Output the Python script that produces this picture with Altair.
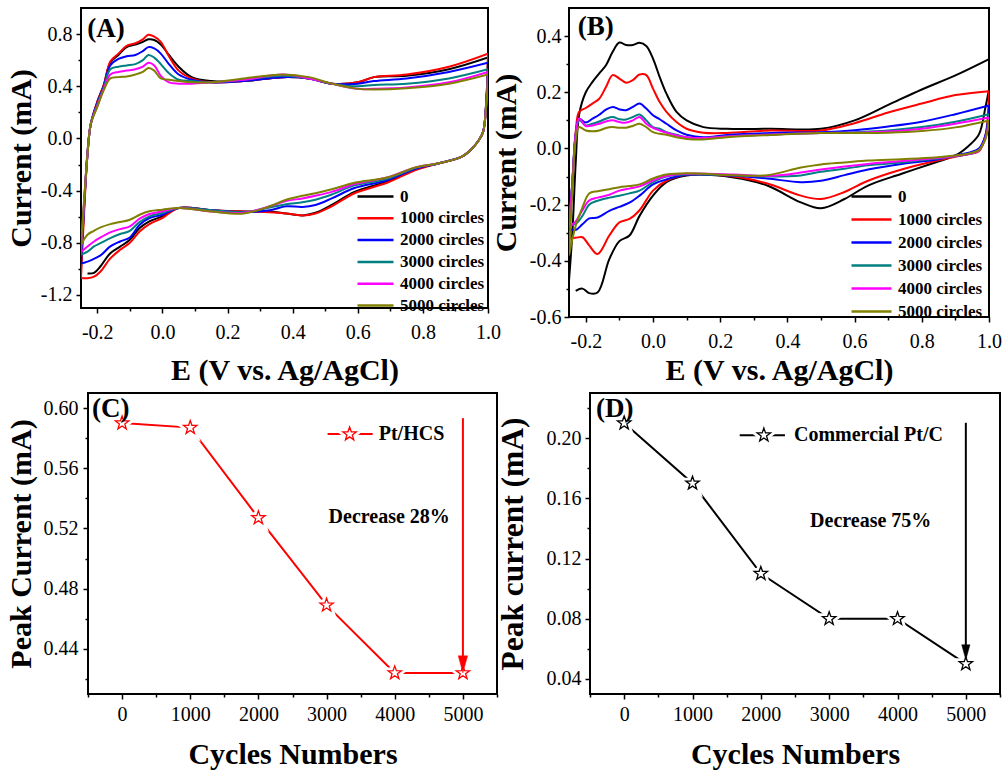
import altair as alt
import pandas as pd

FONT = "Liberation Serif"
SERIES = ["0", "1000 circles", "2000 circles", "3000 circles", "4000 circles", "5000 circles"]
COLORS = ["#000000", "#ff0000", "#0000ff", "#008080", "#ff00ff", "#808000"]

# ---------------- Panel A (Pt/HCS CV) ----------------
A_UP_E = [-0.25, -0.24, -0.23, -0.22, -0.20, -0.18, -0.16, -0.135, -0.11, -0.083, -0.06, -0.043, -0.025,
          -0.005, 0.02, 0.05, 0.09, 0.15, 0.25, 0.37, 0.45, 0.52, 0.60, 0.65, 0.75, 0.88, 1.0]
A_UP_0 = [-1.00, -0.50, -0.10, 0.11, 0.28, 0.41, 0.58, 0.64, 0.70, 0.72, 0.74, 0.76, 0.755, 0.72, 0.64, 0.55,
          0.47, 0.44, 0.44, 0.47, 0.46, 0.42, 0.43, 0.47, 0.48, 0.53, 0.62]
A_UP_1000 = [-1.07, -0.55, -0.12, 0.11, 0.28, 0.41, 0.59, 0.65, 0.71, 0.73, 0.76, 0.795, 0.78, 0.74, 0.63, 0.52,
             0.46, 0.43, 0.44, 0.47, 0.46, 0.42, 0.43, 0.47, 0.49, 0.55, 0.65]
A_UP_2000 = [-0.96, -0.50, -0.12, 0.11, 0.27, 0.40, 0.56, 0.61, 0.63, 0.64, 0.67, 0.70, 0.69, 0.65, 0.57, 0.49,
             0.45, 0.43, 0.44, 0.47, 0.46, 0.42, 0.42, 0.44, 0.46, 0.51, 0.58]
A_UP_3000 = [-0.89, -0.48, -0.12, 0.11, 0.26, 0.39, 0.53, 0.55, 0.56, 0.57, 0.60, 0.64, 0.62, 0.57, 0.50, 0.45,
             0.44, 0.43, 0.45, 0.48, 0.46, 0.42, 0.40, 0.41, 0.42, 0.46, 0.53]
A_UP_4000 = [-0.87, -0.47, -0.12, 0.11, 0.25, 0.38, 0.49, 0.51, 0.52, 0.53, 0.55, 0.58, 0.56, 0.48, 0.43, 0.42,
             0.42, 0.43, 0.45, 0.49, 0.46, 0.42, 0.38, 0.38, 0.39, 0.43, 0.51]
A_UP_5000 = [-0.815, -0.45, -0.12, 0.11, 0.24, 0.37, 0.46, 0.47, 0.475, 0.49, 0.51, 0.54, 0.52, 0.46, 0.45, 0.44,
             0.43, 0.43, 0.46, 0.49, 0.47, 0.42, 0.38, 0.375, 0.385, 0.42, 0.49]

A_LOW_E = [1.0, 0.995, 0.985, 0.97, 0.95, 0.92, 0.85, 0.78, 0.69, 0.59, 0.52, 0.47, 0.43, 0.38, 0.33, 0.25,
           0.15, 0.05, 0.0, -0.04, -0.07, -0.10, -0.13, -0.16, -0.19, -0.21, -0.23, -0.25]
A_LOW_0 = [0.62, 0.30, 0.05, -0.02, -0.08, -0.14, -0.19, -0.235, -0.33, -0.41, -0.51, -0.57, -0.59, -0.575,
           -0.56, -0.56, -0.55, -0.533, -0.597, -0.636, -0.687, -0.777, -0.83, -0.88, -0.98, -1.03, -1.035, None]
A_LOW_1000 = [0.65, 0.30, 0.05, -0.02, -0.08, -0.14, -0.19, -0.24, -0.34, -0.42, -0.52, -0.575, -0.59, -0.575,
              -0.565, -0.56, -0.55, -0.533, -0.61, -0.657, -0.713, -0.80, -0.854, -0.92, -1.02, -1.06, -1.072, -1.07]
A_LOW_2000 = [0.58, 0.29, 0.05, -0.02, -0.08, -0.14, -0.19, -0.23, -0.32, -0.38, -0.46, -0.51, -0.525, -0.52,
              -0.55, -0.565, -0.55, -0.533, -0.585, -0.61, -0.662, -0.759, -0.79, -0.828, -0.897, -0.923, -0.944, -0.96]
A_LOW_3000 = [0.53, 0.28, 0.05, -0.02, -0.08, -0.14, -0.19, -0.225, -0.31, -0.36, -0.43, -0.47, -0.49, -0.505,
              -0.53, -0.565, -0.55, -0.533, -0.572, -0.597, -0.641, -0.708, -0.733, -0.764, -0.803, -0.828, -0.867, -0.89]
A_LOW_4000 = [0.51, 0.27, 0.05, -0.02, -0.08, -0.14, -0.19, -0.22, -0.30, -0.35, -0.41, -0.44, -0.46, -0.48,
              -0.52, -0.57, -0.56, -0.533, -0.559, -0.579, -0.615, -0.674, -0.695, -0.72, -0.759, -0.79, -0.828, -0.87]
A_LOW_5000 = [0.49, 0.26, 0.05, -0.02, -0.08, -0.14, -0.19, -0.22, -0.30, -0.34, -0.39, -0.42, -0.44, -0.47,
              -0.52, -0.575, -0.56, -0.533, -0.546, -0.559, -0.585, -0.623, -0.641, -0.657, -0.682, -0.708, -0.738, -0.815]

# ---------------- Panel B (commercial Pt/C CV) ----------------
B_UP_E = [-0.25, -0.24, -0.23, -0.22, -0.20, -0.18, -0.16, -0.14, -0.12, -0.10, -0.08, -0.06, -0.04, -0.02,
          0.0, 0.02, 0.04, 0.07, 0.10, 0.15, 0.22, 0.35, 0.50, 0.60, 0.70, 0.80, 0.90, 1.0]
B_UP_0 = [-0.47, -0.30, -0.05, 0.12, 0.20, 0.237, 0.267, 0.296, 0.344, 0.377, 0.368, 0.368, 0.376, 0.365,
          0.32, 0.254, 0.195, 0.13, 0.10, 0.076, 0.07, 0.07, 0.07, 0.10, 0.155, 0.21, 0.26, 0.318]
B_UP_1000 = [-0.32, -0.12, 0.06, 0.13, 0.144, 0.16, 0.177, 0.219, 0.261, 0.249, 0.234, 0.243, 0.263, 0.261,
             0.213, 0.165, 0.13, 0.094, 0.07, 0.056, 0.055, 0.064, 0.064, 0.09, 0.128, 0.16, 0.19, 0.204]
B_UP_2000 = [-0.29, -0.12, 0.05, 0.106, 0.092, 0.106, 0.12, 0.138, 0.148, 0.139, 0.136, 0.148, 0.16, 0.142,
             0.118, 0.104, 0.088, 0.064, 0.049, 0.04, 0.048, 0.055, 0.058, 0.065, 0.078, 0.095, 0.122, 0.153]
B_UP_3000 = [-0.27, -0.12, 0.05, 0.10, 0.082, 0.088, 0.096, 0.106, 0.112, 0.104, 0.103, 0.112, 0.121, 0.10,
             0.076, 0.07, 0.058, 0.049, 0.04, 0.037, 0.043, 0.05, 0.055, 0.058, 0.064, 0.076, 0.095, 0.122]
B_UP_4000 = [-0.28, -0.12, 0.05, 0.107, 0.08, 0.082, 0.088, 0.096, 0.10, 0.094, 0.092, 0.10, 0.112, 0.088,
             0.073, 0.064, 0.056, 0.046, 0.04, 0.037, 0.043, 0.05, 0.055, 0.056, 0.06, 0.07, 0.088, 0.11]
B_UP_5000 = [-0.38, -0.15, 0.03, 0.076, 0.064, 0.061, 0.064, 0.073, 0.076, 0.074, 0.074, 0.08, 0.088, 0.076,
             0.058, 0.052, 0.049, 0.04, 0.034, 0.032, 0.04, 0.048, 0.055, 0.055, 0.056, 0.062, 0.075, 0.10]

B_LOW_E = [1.0, 0.99, 0.97, 0.94, 0.90, 0.84, 0.74, 0.64, 0.57, 0.50, 0.44, 0.34, 0.24, 0.10, 0.04, 0.0,
           -0.04, -0.07, -0.10, -0.13, -0.165, -0.19, -0.21, -0.23, -0.25]
B_LOW_0 = [0.21, 0.15, 0.05, 0.01, -0.025, -0.05, -0.09, -0.132, -0.18, -0.213, -0.192, -0.132, -0.103, -0.096,
           -0.12, -0.168, -0.24, -0.31, -0.33, -0.394, -0.513, -0.515, -0.499, -0.507, None]
B_LOW_1000 = [0.204, 0.05, -0.01, -0.02, -0.03, -0.045, -0.075, -0.115, -0.155, -0.18, -0.168, -0.125, -0.10,
              -0.094, -0.115, -0.15, -0.22, -0.251, -0.263, -0.31, -0.376, -0.345, -0.316, -0.318, -0.32]
B_LOW_2000 = [0.153, 0.05, 0.0, -0.015, -0.025, -0.04, -0.055, -0.075, -0.095, -0.115, -0.12, -0.107, -0.097,
              -0.094, -0.11, -0.128, -0.168, -0.193, -0.208, -0.222, -0.246, -0.249, -0.27, -0.29, -0.286]
B_LOW_3000 = [0.122, 0.04, -0.007, -0.02, -0.028, -0.037, -0.05, -0.06, -0.072, -0.083, -0.096, -0.10, -0.095,
              -0.092, -0.10, -0.12, -0.15, -0.16, -0.168, -0.175, -0.186, -0.20, -0.24, -0.268, -0.27]
B_LOW_4000 = [0.11, 0.04, -0.007, -0.02, -0.027, -0.035, -0.045, -0.055, -0.064, -0.075, -0.086, -0.098, -0.093,
              -0.09, -0.098, -0.114, -0.135, -0.143, -0.15, -0.165, -0.175, -0.185, -0.22, -0.26, -0.28]
B_LOW_5000 = [0.10, 0.035, -0.005, -0.018, -0.025, -0.032, -0.038, -0.043, -0.05, -0.057, -0.068, -0.095, -0.095,
              -0.088, -0.093, -0.107, -0.128, -0.134, -0.138, -0.145, -0.152, -0.16, -0.21, -0.275, -0.38]

# ---------------- Panels C and D (peak current vs cycles) ----------------
CYCLES = [0, 1000, 2000, 3000, 4000, 5000]
C_PEAK = [0.590, 0.587, 0.527, 0.469, 0.424, 0.424]
D_PEAK = [0.210, 0.170, 0.110, 0.080, 0.080, 0.050]

STAR = ("M0,-1L0.235,-0.324L0.951,-0.309L0.38,0.124L0.588,0.809L0,0.4L-0.588,0.809"
        "L-0.38,0.124L-0.951,-0.309L-0.235,-0.324Z")
HEAD = "M-0.55,-1L0.55,-1L0,1Z"
MINUS_FIX = "replace(datum.label, '\u2212', '-')"


def cv_frame(up_e, ups, low_e, lows):
    rows = []
    for name, up, low in zip(SERIES, ups, lows):
        for branch, es, vs in (("anodic", up_e, up), ("cathodic", low_e, low)):
            k = 0
            for e, v in zip(es, vs):
                if v is None:
                    continue
                rows.append({"series": name, "branch": branch, "k": k, "E": e, "I": v})
                k += 1
    return pd.DataFrame(rows)


def major_axis(title, values, fmt, lpad, tpad, **kw):
    return alt.Axis(title=title, values=values, format=fmt, labelPadding=lpad,
                    titlePadding=tpad, labelExpr=MINUS_FIX, **kw)


def minor_axis(orient, values):
    return alt.Axis(orient=orient, values=values, labels=False, title=None,
                    tickSize=3, domain=False, grid=False)


def cv_panel(df, xdom, ydom, xmaj, ymaj, xmin, ymin, w, h, leg, tag, tag_e, tag_i, pads):
    xs = alt.Scale(domain=xdom, nice=False, zero=False)
    ys = alt.Scale(domain=ydom, nice=False, zero=False)
    lines = alt.Chart(df).mark_line(strokeWidth=2, interpolate="catmull-rom", clip=True).encode(
        x=alt.X("E:Q", scale=xs,
                axis=major_axis("E (V vs. Ag/AgCl)", xmaj, ".1f", pads["xl"], pads["xt"])),
        y=alt.Y("I:Q", scale=ys,
                axis=major_axis("Current (mA)", ymaj, ".1f", pads["yl"], pads["yt"])),
        color=alt.Color("series:N", scale=alt.Scale(domain=SERIES, range=COLORS),
                        legend=alt.Legend(**leg)),
        detail="branch:N",
        order="k:Q",
    )
    tagdf = pd.DataFrame({"E": [tag_e], "I": [tag_i], "t": [tag]})
    label = alt.Chart(tagdf).mark_text(font=FONT, fontSize=27, fontWeight="bold", align="left",
                                       baseline="middle", color="black").encode(
        x=alt.X("E:Q", scale=xs, axis=minor_axis("bottom", xmin)),
        y=alt.Y("I:Q", scale=ys, axis=minor_axis("left", ymin)),
        text="t:N",
    )
    return alt.layer(lines, label).resolve_axis(x="independent", y="independent").properties(
        width=w, height=h)


def peak_panel(values, color, ydom, ymaj, ymin, ytitle, w, h, tag, tag_pos, leg_label,
               leg_line, leg_star, leg_text, leg_y, note, note_pos, arrow, head_y, head_size, pads,
               ytitle_size):
    xs = alt.Scale(domain=[-500, 5500], nice=False, zero=False)
    ys = alt.Scale(domain=ydom, nice=False, zero=False)

    def X(axis):
        return alt.X("c:Q", scale=xs, axis=axis)

    def Y(axis):
        return alt.Y("p:Q", scale=ys, axis=axis)

    df = pd.DataFrame({"c": CYCLES, "p": values})
    line = alt.Chart(df).mark_line(color=color, strokeWidth=2).encode(
        x=X(major_axis("Cycles Numbers", CYCLES, "d", pads["xl"], pads["xt"])),
        y=Y(major_axis(ytitle, ymaj, ".2f", pads["yl"], pads["yt"], titleFontSize=ytitle_size)),
    )
    stars_df = pd.concat([df, pd.DataFrame({"c": [leg_star], "p": [leg_y]})], ignore_index=True)
    halo = alt.Chart(stars_df).mark_point(shape=STAR, size=200, filled=True, fill="white",
                                          stroke="white", strokeWidth=7, opacity=1).encode(
        x=X(None), y=Y(None))
    stars = alt.Chart(stars_df).mark_point(shape=STAR, size=200, filled=True, fill="white",
                                           stroke=color, strokeWidth=1.3, opacity=1).encode(
        x=X(None), y=Y(None))
    legline = alt.Chart(pd.DataFrame({"c": leg_line, "p": [leg_y, leg_y]})).mark_line(
        color=color, strokeWidth=2).encode(x=X(None), y=Y(None))
    texts = alt.Chart(pd.DataFrame({"c": [leg_text, note_pos[0]], "p": [leg_y, note_pos[1]],
                                    "t": [leg_label, note]})).mark_text(
        font=FONT, fontSize=20, fontWeight="bold", align="left", baseline="middle",
        color="black").encode(x=X(None), y=Y(None), text="t:N")
    rule = alt.Chart(pd.DataFrame({"c": [5000], "p": [arrow[0]], "p2": [arrow[1]]})).mark_rule(
        color=color, strokeWidth=2).encode(x=X(None), y=Y(None), y2="p2:Q")
    head = alt.Chart(pd.DataFrame({"c": [5000], "p": [head_y]})).mark_point(
        shape=HEAD, size=head_size, filled=True, fill=color, stroke=color, strokeWidth=0.5,
        opacity=1).encode(x=X(None), y=Y(None))
    tagc = alt.Chart(pd.DataFrame({"c": [tag_pos[0]], "p": [tag_pos[1]], "t": [tag]})).mark_text(
        font=FONT, fontSize=27, fontWeight="bold", align="left", baseline="middle",
        color="black").encode(
        x=X(minor_axis("bottom", [-500, 500, 1500, 2500, 3500, 4500, 5500])),
        y=Y(minor_axis("left", ymin)),
        text="t:N",
    )
    return alt.layer(line, legline, halo, stars, rule, head, texts, tagc).resolve_axis(
        x="independent", y="independent").properties(width=w, height=h)


dfA = cv_frame(A_UP_E, [A_UP_0, A_UP_1000, A_UP_2000, A_UP_3000, A_UP_4000, A_UP_5000],
               A_LOW_E, [A_LOW_0, A_LOW_1000, A_LOW_2000, A_LOW_3000, A_LOW_4000, A_LOW_5000])
dfB = cv_frame(B_UP_E, [B_UP_0, B_UP_1000, B_UP_2000, B_UP_3000, B_UP_4000, B_UP_5000],
               B_LOW_E, [B_LOW_0, B_LOW_1000, B_LOW_2000, B_LOW_3000, B_LOW_4000, B_LOW_5000])

LEG_COMMON = dict(orient="none", title=None, symbolType="stroke", symbolStrokeWidth=2.5,
                  labelFont=FONT, labelFontSize=17, labelFontWeight="bold", labelColor="black",
                  labelOffset=5, clipHeight=17, padding=0)

panelA = cv_panel(dfA, [-0.25, 1.0], [-1.3, 1.0],
                  [-0.2, 0.0, 0.2, 0.4, 0.6, 0.8, 1.0], [-1.2, -0.8, -0.4, 0.0, 0.4, 0.8],
                  [-0.1, 0.1, 0.3, 0.5, 0.7, 0.9], [-1.0, -0.6, -0.2, 0.2, 0.6],
                  407, 300, dict(LEG_COMMON, legendX=275, legendY=180, symbolSize=1296, rowPadding=3.8),
                  "(A)", -0.231, 0.838, dict(xl=9, xt=13, yl=4, yt=4))
panelB = cv_panel(dfB, [-0.25, 1.0], [-0.6, 0.5],
                  [-0.2, 0.0, 0.2, 0.4, 0.6, 0.8, 1.0], [-0.6, -0.4, -0.2, 0.0, 0.2, 0.4],
                  [-0.1, 0.1, 0.3, 0.5, 0.7, 0.9], [-0.5, -0.3, -0.1, 0.1, 0.3],
                  420, 309, dict(LEG_COMMON, legendX=281, legendY=180, symbolSize=1600, rowPadding=5.0),
                  "(B)", -0.224, 0.432, dict(xl=9, xt=4, yl=3, yt=8))

panelC = peak_panel(C_PEAK, "#ff0000", [0.41, 0.61], [0.44, 0.48, 0.52, 0.56, 0.60],
                    [0.42, 0.46, 0.50, 0.54, 0.58], "Peak Current (mA)", 409, 301,
                    "(C)", (-441, 0.5997), "Pt/HCS", [3015, 3676], 3338, 3765, 0.5827,
                    "Decrease 28%", (3029, 0.5273), (0.5933, 0.434), 0.4297, 289,
                    dict(xl=5, xt=15, yl=5, yt=7), 30)
panelD = peak_panel(D_PEAK, "#000000", [0.03, 0.23], [0.04, 0.08, 0.12, 0.16, 0.20],
                    [0.06, 0.10, 0.14, 0.18, 0.22], "Peak current (mA)", 410, 301,
                    "(D)", (-412, 0.2193), "Commercial Pt/C", [1691, 2353], 2044, 2485, 0.202,
                    "Decrease 75%", (2721, 0.1447), (0.2102, 0.062), 0.0577, 225,
                    dict(xl=5, xt=15, yl=4, yt=17), 31.5)

# invisible 1-px spacer that nudges the lower row a few pixels to the right of the upper row
spacer = alt.Chart(pd.DataFrame({"v": [0]})).mark_point(opacity=0).encode(
    x=alt.X("v:Q", axis=None), y=alt.Y("v:Q", axis=None)
).properties(width=1, height=1, view=alt.ViewBackground(stroke="transparent"))

row1 = alt.hconcat(panelA, panelB, spacing=81, bounds="flush").resolve_scale(color="independent")
row2 = alt.hconcat(spacer, alt.hconcat(panelC, panelD, spacing=93, bounds="flush"),
                   spacing=6, bounds="flush")

chart = alt.concat(row1, row2, columns=1, spacing=3, align="none").properties(
    padding={"left": 4, "top": 7, "right": 0, "bottom": 0}
).configure(background="white").configure_view(
    stroke="black", strokeWidth=2
).configure_axis(
    labelFont=FONT, labelFontSize=20, labelColor="black",
    titleFont=FONT, titleFontSize=30, titleFontWeight="bold", titleColor="black",
    tickColor="black", tickWidth=1.5, tickSize=5, domain=False, grid=False,
    labelFlush=False, labelOverlap=False,
)

chart.save("out.html", embed_options={"renderer": "svg", "actions": False})
